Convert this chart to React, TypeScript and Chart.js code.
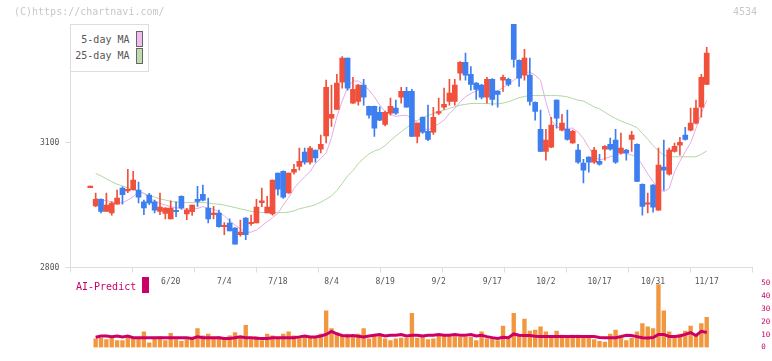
import React, { useEffect, useRef } from "react";
import { Chart, registerables } from "chart.js";

Chart.register(...registerables);

// ---- data (one entry per trading day, 5/30 .. 11/17) ----
const tickLabels = ["6/20", "7/4", "7/18", "8/4", "8/19", "9/2", "9/17", "10/2", "10/17", "10/31", "11/17"];
const tickIndices = [15, 25, 35, 45, 55, 65, 75, 85, 95, 105, 115];
const priceTicks = [2800, 3100];

const opens = [
  2992, 2948, 2964, 2935, 2931, 2952, 2991, 2984, 2987, 2986,
  2958, 2974, 2958, 2935, 2930, 2917, 2937, 2971, 2929, 2934,
  2964, 2976, 2943, 2927, 2931, 2898, 2907, 2895, 2879, 2919,
  2905, 2907, 2956, 2931, 2929, 3027, 3031, 2979, 3029, 3043,
  3077, 3053, 3082, 3084, 3116, 3159, 3180, 3245, 3303, 3195,
  3199, 3238, 3187, 3187, 3173, 3144, 3171, 3183, 3209, 3223,
  3223, 3115, 3161, 3127, 3125, 3171, 3185, 3199, 3199, 3267,
  3293, 3264, 3243, 3238, 3209, 3252, 3223, 3250, 3252, 3384,
  3298, 3262, 3262, 3197, 3132, 3079, 3089, 3202, 3130, 3132,
  3099, 3082, 3051, 3065, 3053, 3055, 3084, 3096, 3106, 3075,
  3082, 3108, 3096, 3000, 2952, 2998, 2938, 3041, 3024, 3079,
  3094, 3118, 3130, 3147, 3185, 3240,
];
const highs = [
  2992, 2979, 2965, 2979, 2958, 2986, 2994, 3036, 3031, 3005,
  2962, 2978, 2962, 2979, 2944, 2960, 2958, 2972, 2942, 2950,
  2995, 2998, 2967, 2947, 2938, 2908, 2917, 2896, 2914, 2920,
  2926, 2964, 2991, 2971, 3010, 3027, 3032, 3027, 3048, 3087,
  3087, 3091, 3082, 3118, 3250, 3238, 3264, 3307, 3303, 3257,
  3240, 3252, 3188, 3188, 3186, 3176, 3207, 3202, 3233, 3233,
  3228, 3147, 3162, 3190, 3185, 3207, 3231, 3252, 3252, 3295,
  3315, 3283, 3244, 3240, 3257, 3254, 3225, 3262, 3255, 3385,
  3299, 3324, 3303, 3198, 3178, 3132, 3161, 3203, 3168, 3178,
  3130, 3096, 3060, 3066, 3089, 3072, 3093, 3111, 3132, 3123,
  3084, 3127, 3097, 3001, 2979, 2999, 3087, 3106, 3087, 3099,
  3113, 3137, 3183, 3202, 3264, 3329,
];
const lows = [
  2992, 2946, 2931, 2935, 2926, 2952, 2952, 2980, 2986, 2955,
  2927, 2951, 2931, 2927, 2917, 2917, 2922, 2940, 2915, 2925,
  2947, 2960, 2907, 2917, 2897, 2879, 2888, 2856, 2875, 2867,
  2901, 2907, 2946, 2931, 2926, 2974, 2966, 2978, 3024, 3034,
  3048, 3048, 3053, 3075, 3099, 3139, 3180, 3231, 3226, 3194,
  3190, 3190, 3159, 3115, 3153, 3140, 3166, 3168, 3195, 3185,
  3115, 3099, 3122, 3105, 3120, 3167, 3180, 3190, 3190, 3250,
  3250, 3226, 3204, 3205, 3195, 3190, 3185, 3223, 3236, 3281,
  3235, 3250, 3190, 3154, 3078, 3058, 3088, 3135, 3128, 3106,
  3098, 3050, 3003, 3029, 3050, 3046, 3058, 3082, 3050, 3072,
  3058, 3079, 3006, 2926, 2931, 2933, 2937, 2986, 3022, 3077,
  3070, 3106, 3128, 3145, 3161, 3239,
];
const closes = [
  2992, 2964, 2935, 2950, 2955, 2967, 2975, 2988, 3010, 2969,
  2943, 2955, 2938, 2945, 2943, 2943, 2934, 2943, 2938, 2950,
  2959, 2962, 2917, 2928, 2898, 2899, 2888, 2856, 2885, 2879,
  2906, 2945, 2960, 2945, 3010, 2988, 2969, 3027, 3036, 3055,
  3053, 3087, 3063, 3096, 3233, 3168, 3243, 3303, 3231, 3228,
  3238, 3209, 3166, 3135, 3154, 3173, 3187, 3171, 3223, 3185,
  3115, 3147, 3125, 3108, 3161, 3173, 3192, 3219, 3238, 3293,
  3262, 3240, 3228, 3209, 3252, 3204, 3216, 3257, 3240, 3300,
  3255, 3303, 3199, 3175, 3079, 3106, 3142, 3159, 3147, 3108,
  3127, 3053, 3034, 3053, 3082, 3048, 3091, 3084, 3053, 3087,
  3075, 3118, 3007, 2947, 2953, 2945, 3046, 3034, 3082, 3091,
  3101, 3108, 3147, 3183, 3257, 3315,
];
const ma5 = [
  null, 2966, 2963, 2960, 2958, 2955, 2956, 2962, 2970, 2982,
  2978, 2966, 2960, 2954, 2950, 2946, 2944, 2941, 2940, 2941,
  2942, 2946, 2943, 2940, 2934, 2924, 2912, 2902, 2893, 2884,
  2885, 2890, 2900, 2910, 2920, 2930, 2950, 2968, 2990, 3005,
  3018, 3030, 3050, 3062, 3075, 3112, 3162, 3200, 3232, 3248,
  3248, 3240, 3226, 3210, 3190, 3174, 3168, 3163, 3165, 3166,
  3158, 3150, 3135, 3130, 3138, 3145, 3154, 3170, 3182, 3198,
  3210, 3218, 3224, 3227, 3227, 3227, 3224, 3232, 3240, 3250,
  3260, 3268, 3270, 3262, 3250, 3198, 3154, 3138, 3134, 3134,
  3135, 3125, 3110, 3088, 3068, 3058, 3062, 3066, 3070, 3074,
  3074, 3070, 3066, 3046, 3025, 3006, 2990, 2982, 2990, 3030,
  3055, 3078, 3100, 3134, 3170, 3202,
];
const ma25 = [
  null, 3026, 3020, 3013, 3006, 3000, 2996, 2991, 2987, 2983,
  2978, 2973, 2969, 2965, 2962, 2959, 2957, 2956, 2956, 2956,
  2956, 2956, 2955, 2953, 2952, 2950, 2947, 2944, 2941, 2938,
  2935, 2933, 2932, 2932, 2932, 2932, 2932, 2933, 2936, 2941,
  2944, 2947, 2951, 2957, 2964, 2972, 2985, 3002, 3020, 3033,
  3050, 3062, 3073, 3080, 3084, 3093, 3105, 3116, 3126, 3136,
  3145, 3153, 3160, 3165, 3170, 3174, 3178, 3182, 3186, 3190,
  3192, 3194, 3194, 3194, 3194, 3193, 3193, 3195, 3198, 3203,
  3208, 3211, 3213, 3213, 3213, 3213, 3213, 3213, 3212, 3210,
  3206, 3202, 3200, 3193, 3186, 3181, 3173, 3165, 3158, 3152,
  3147, 3142, 3136, 3122, 3108, 3093, 3080, 3070, 3066, 3066,
  3066, 3066, 3066, 3066, 3072, 3080,
];
const volumes = [
  null, 6.7, 7.3, 6.1, 7.9, 5.4, 5.4, 7.9, 6.7, 7.3,
  12.3, 3.6, 7.3, 8.6, 5.4, 11.1, 6.1, 4.8, 6.1, 7.3,
  14.8, 9.2, 10.4, 7.9, 8.6, 6.7, 9.2, 11.7, 7.9, 17.3,
  6.1, 8.6, 5.4, 10.4, 9.2, 7.9, 10.4, 12.3, 9.2, 8.6,
  9.2, 7.9, 8.6, 10.4, 28.6, 14.8, 11.7, 9.2, 10.4, 9.2,
  10.4, 14.8, 6.7, 8.6, 9.2, 6.7, 5.4, 6.7, 7.3, 7.3,
  26.7, 7.3, 7.9, 6.1, 6.7, 9.8, 9.2, 8.6, 8.6, 7.9,
  7.9, 7.9, 5.4, 12.3, 6.7, 7.3, 5.4, 16.7, 6.7, 26.7,
  9.8, 22.3, 12.9, 13.6, 16.1, 12.3, 7.9, 12.9, 9.8, 8.6,
  9.8, 9.8, 7.3, 8.6, 6.1, 4.8, 4.2, 10.4, 13.6, 9.8,
  5.4, 7.3, 12.3, 18.6, 16.1, 14.8, 49.2, 28.6, 12.3, 8.6,
  10.4, 12.9, 16.7, 9.2, 18.6, 23.6,
];
const aiPredict = [
  null, 8.0, 9.0, 9.0, 8.5, 9.0, 8.3, 9.0, 7.7, 7.7,
  7.7, 7.7, 7.7, 7.7, 7.7, 7.7, 7.7, 7.7, 7.7, 7.1,
  8.3, 7.7, 7.7, 7.7, 7.7, 7.1, 7.1, 7.7, 8.3, 7.7,
  7.7, 7.3, 7.1, 7.1, 7.7, 7.7, 7.7, 7.7, 7.7, 8.3,
  9.0, 8.3, 8.3, 9.0, 10.2, 12.5, 10.6, 9.4, 9.0, 9.4,
  8.8, 8.3, 9.0, 9.6, 10.2, 9.0, 9.6, 9.6, 10.2, 9.0,
  9.6, 9.6, 9.0, 9.6, 9.6, 10.2, 9.6, 9.6, 10.2, 9.6,
  9.6, 10.2, 9.0, 9.6, 8.5, 7.7, 7.1, 8.0, 7.7, 10.6,
  9.6, 9.4, 9.4, 8.8, 8.6, 8.6, 8.6, 8.6, 8.6, 8.6,
  8.6, 8.6, 8.6, 8.6, 8.6, 7.9, 7.7, 7.7, 7.7, 8.5,
  9.5, 9.3, 8.5, 7.6, 7.4, 7.8, 10.2, 10.2, 8.6, 8.6,
  9.0, 10.2, 11.7, 9.4, 12.6, 11.7,
];

// ---- styling ----
const FONT = '"DejaVu Sans Mono", monospace';
const RED = "#f0503c";
const BLUE = "#3d7ef0";
const PINK = "#e6abe6";
const GREEN = "#b0d8a0";
const CRIMSON = "#cc0066";
const ORANGE = "#f0973f";
const AXIS = "#dddddd";

const X_MIN = -3.731;
const X_MAX = 123.507;

export default function App() {
  const mainRef = useRef<HTMLCanvasElement>(null);
  const volRef = useRef<HTMLCanvasElement>(null);

  useEffect(() => {
    const idx = closes.map((_, i) => i);
    const colors = idx.map((i) => (closes[i] >= opens[i] ? RED : BLUE));
    const gridVals = Array.from({ length: 12 }, (_, k) => X_MIN + (k * (X_MAX - X_MIN)) / 11);
    const labelAt = new Map<number, string>(tickIndices.map((v, k) => [v, tickLabels[k]]));

    const main = new Chart(mainRef.current as HTMLCanvasElement, {
      type: "bar",
      data: {
        datasets: [
          {
            type: "bar",
            label: "body",
            data: idx.map((i) => ({ x: i, y: [opens[i], closes[i]] })) as any,
            backgroundColor: colors,
            barThickness: 5,
            minBarLength: 1.5,
            grouped: false,
            order: 1,
          } as any,
          {
            type: "bar",
            label: "wick",
            data: idx.map((i) => ({ x: i, y: [lows[i], highs[i]] })) as any,
            backgroundColor: colors,
            barThickness: 1,
            minBarLength: 1.5,
            grouped: false,
            order: 2,
          } as any,
          {
            type: "line",
            label: "5-day MA",
            data: idx.map((i) => ({ x: i, y: ma5[i] })) as any,
            borderColor: PINK,
            borderWidth: 1,
            pointRadius: 0,
            tension: 0,
            order: 3,
          } as any,
          {
            type: "line",
            label: "25-day MA",
            data: idx.map((i) => ({ x: i, y: ma25[i] })) as any,
            borderColor: GREEN,
            borderWidth: 1,
            pointRadius: 0,
            tension: 0,
            order: 4,
          } as any,
        ],
      },
      options: {
        responsive: false,
        animation: false,
        devicePixelRatio: 1,
        layout: { padding: { top: 24, right: 19.7, left: 0, bottom: 0 } },
        plugins: { legend: { display: false }, tooltip: { enabled: false } },
        scales: {
          x: {
            type: "linear",
            min: X_MIN,
            max: X_MAX,
            offset: false,
            afterBuildTicks: (s: any) => {
              const vals = [...gridVals, ...tickIndices].sort((a, b) => a - b);
              s.ticks = vals.map((v) => ({ value: v }));
            },
            afterFit: (s: any) => {
              s.height = 32.5;
            },
            ticks: {
              autoSkip: false,
              maxRotation: 0,
              padding: 5,
              color: "#555555",
              font: { family: FONT, size: 8 },
              callback: (v: any) => labelAt.get(v) ?? "",
            },
            grid: {
              offset: false,
              drawOnChartArea: false,
              tickLength: 5,
              color: (c: any) => (c.tick && labelAt.has(c.tick.value) ? "rgba(0,0,0,0)" : AXIS),
            },
            border: { color: AXIS },
          } as any,
          y: {
            type: "linear",
            position: "left",
            min: 2800,
            max: 3385,
            afterBuildTicks: (s: any) => {
              s.ticks = priceTicks.map((v) => ({ value: v }));
            },
            afterFit: (s: any) => {
              s.width = 70.3;
            },
            ticks: {
              padding: 6,
              color: "#555555",
              font: { family: FONT, size: 8 },
              callback: (v: any) => String(v),
            },
            grid: { drawOnChartArea: false, tickLength: 5, color: AXIS },
            border: { color: AXIS },
          } as any,
        },
      },
    });

    const vol = new Chart(volRef.current as HTMLCanvasElement, {
      type: "bar",
      data: {
        datasets: [
          {
            type: "line",
            label: "AI-Predict",
            data: idx.map((i) => ({ x: i, y: aiPredict[i] })) as any,
            borderColor: CRIMSON,
            borderWidth: 3,
            pointRadius: 0,
            tension: 0,
            order: 1,
          } as any,
          {
            type: "bar",
            label: "volume",
            data: idx.map((i) => ({ x: i, y: volumes[i] })) as any,
            backgroundColor: ORANGE,
            barThickness: 3.7,
            grouped: false,
            order: 2,
          } as any,
        ],
      },
      options: {
        responsive: false,
        animation: false,
        devicePixelRatio: 1,
        layout: { padding: { top: 7.7, right: 0, left: 70.3, bottom: 3.3 } },
        plugins: { legend: { display: false }, tooltip: { enabled: false } },
        scales: {
          x: { type: "linear", min: X_MIN, max: X_MAX, offset: false, display: false, grid: { offset: false } } as any,
          y: {
            type: "linear",
            position: "right",
            min: 0,
            max: 50,
            afterFit: (s: any) => {
              s.width = 19.7;
            },
            ticks: {
              stepSize: 10,
              padding: 9,
              color: CRIMSON,
              font: { family: FONT, size: 7.5 },
              callback: (v: any) => String(v),
            },
            grid: { display: false, drawTicks: false },
            border: { display: false },
          } as any,
        },
      },
    });

    return () => {
      main.destroy();
      vol.destroy();
    };
  }, []);

  const txt: React.CSSProperties = {
    position: "absolute",
    fontFamily: FONT,
    fontSize: 10,
    lineHeight: "12px",
    whiteSpace: "nowrap",
  };

  return (
    <div
      style={{
        position: "fixed",
        left: 0,
        top: 0,
        width: 772,
        height: 361,
        background: "#ffffff",
        overflow: "hidden",
      }}
    >
      <canvas ref={mainRef} width={772} height={300} style={{ position: "absolute", left: 0, top: 0 }} />
      <canvas ref={volRef} width={772} height={91} style={{ position: "absolute", left: 0, top: 270 }} />

      <div style={{ ...txt, left: 14, top: 6, color: "#c8c8c8" }}>(C)https://chartnavi.com/</div>
      <div style={{ ...txt, left: 733, top: 6, color: "#c8c8c8" }}>4534</div>

      <div
        style={{
          position: "absolute",
          left: 70,
          top: 24,
          width: 79,
          height: 48,
          boxSizing: "border-box",
          border: "1px solid #dddddd",
          background: "#ffffff",
        }}
      />
      <div style={{ ...txt, left: 70, width: 59.5, textAlign: "right", top: 34, color: "#555555" }}>5-day MA</div>
      <div style={{ ...txt, left: 70, width: 59.5, textAlign: "right", top: 50, color: "#555555" }}>25-day MA</div>
      <div
        style={{
          position: "absolute",
          left: 136,
          top: 31,
          width: 7,
          height: 16,
          boxSizing: "border-box",
          border: "1px solid #666666",
          background: "#efbdef",
        }}
      />
      <div
        style={{
          position: "absolute",
          left: 136,
          top: 48,
          width: 7,
          height: 16,
          boxSizing: "border-box",
          border: "1px solid #666666",
          background: "#bcdcae",
        }}
      />

      <div style={{ ...txt, left: 76, top: 280.5, color: CRIMSON }}>AI-Predict</div>
      <div style={{ position: "absolute", left: 142, top: 277, width: 7, height: 16, background: CRIMSON }} />
    </div>
  );
}
